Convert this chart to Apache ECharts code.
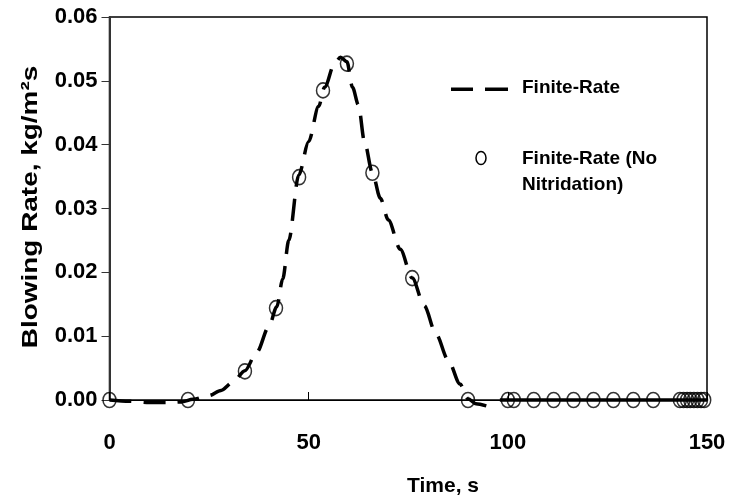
<!DOCTYPE html>
<html>
<head>
<meta charset="utf-8">
<script src="https://cdn.jsdelivr.net/npm/echarts@6/dist/echarts.min.js"></script>
<style>
  html, body { margin: 0; padding: 0; background: #fff; }
  #chart { width: 731px; height: 504px; }
</style>
</head>
<body>
<div id="chart"></div>
<script>
// Finite-rate blowing rate history (dashed curve)
const lineTime = [0, 5, 10, 15, 18, 21, 25, 28, 31, 34, 37, 40, 42, 43.5, 45, 47.5, 50, 52.5, 54, 56.5, 58, 59.6, 61, 62.5, 64, 66, 68, 70, 73, 76, 79, 82, 85, 88, 90, 92, 95];
const lineRate = [0, -0.0002, -0.0004, -0.0004, -0.0003, 0.0001, 0.0007, 0.0015, 0.0028, 0.0046, 0.0075, 0.0115, 0.0146, 0.019, 0.025, 0.0352, 0.0405, 0.046, 0.049, 0.0527, 0.0537, 0.053, 0.049, 0.0462, 0.0405, 0.0356, 0.0316, 0.0282, 0.0236, 0.0191, 0.0148, 0.0103, 0.0063, 0.0025, 0.0002, -0.0006, -0.001];
// Tail of the same curve after burn-out (drawn solid)
const tailTime = [98, 100, 110, 120, 130, 140, 150];
const tailRate = [0, 0, 0, 0, 0, 0, 0];

// Finite-rate without nitridation (open circles)
const circleTime = [0, 19.7, 34, 41.8, 47.6, 53.6, 59.6, 66, 76, 90, 100, 101.5, 106.5, 111.5, 116.5, 121.5, 126.5, 131.5, 136.5, 143.2, 144.1, 145, 145.8, 146.7, 147.6, 148.5, 149.3];
const circleRate = [0, 0, 0.0045, 0.0144, 0.0349, 0.0485, 0.0527, 0.0356, 0.0191, 0, 0, 0, 0, 0, 0, 0, 0, 0, 0, 0, 0, 0, 0, 0, 0, 0, 0];

const xTicks = [0, 50, 100, 150];
const yTicks = [0, 0.01, 0.02, 0.03, 0.04, 0.05, 0.06];

const seriesNames = ['Finite-Rate', 'Finite-Rate (No Nitridation)'];
const xTitle = 'Time, s';
const yTitle = 'Blowing Rate, kg/m²s';

const FONT = "'Liberation Sans', Arial, sans-serif";

const zip = (a, b) => a.map((v, i) => [v, b[i]]);

const chart = echarts.init(document.getElementById('chart'), null, { renderer: 'canvas' });

chart.setOption({
  animation: false,
  backgroundColor: '#ffffff',
  grid: { left: 109.5, right: 24, top: 17, bottom: 104, show: true, borderColor: '#000', borderWidth: 1.5, backgroundColor: 'transparent' },
  xAxis: {
    type: 'value',
    min: xTicks[0], max: xTicks[xTicks.length - 1], interval: 50,
    axisLine: { lineStyle: { color: '#000', width: 1.2 } },
    axisTick: { inside: true, length: 8, lineStyle: { color: '#000', width: 1 } },
    axisLabel: { margin: 32, fontFamily: FONT, fontWeight: 'bold', fontSize: 22, color: '#000' },
    splitLine: { show: false }
  },
  yAxis: {
    type: 'value',
    min: yTicks[0], max: yTicks[yTicks.length - 1], interval: 0.01,
    axisLine: { lineStyle: { color: '#333', width: 2 } },
    axisTick: { inside: false, length: 8, lineStyle: { color: '#333', width: 1 } },
    axisLabel: { margin: 12, fontFamily: FONT, fontWeight: 'bold', fontSize: 22, color: '#000', formatter: v => v.toFixed(2) },
    splitLine: { show: false }
  },
  series: [
    {
      name: seriesNames[0], type: 'line', data: zip(lineTime, lineRate),
      showSymbol: false, symbol: 'none', clip: false, smooth: 0.3, smoothMonotone: 'x',
      lineStyle: { color: '#000', width: 3.5, type: [22, 12] }, z: 3
    },
    {
      name: seriesNames[0], type: 'line', data: zip(tailTime, tailRate),
      showSymbol: false, symbol: 'none', clip: false,
      lineStyle: { color: '#000', width: 3.5, type: 'solid' }, z: 3
    },
    {
      name: seriesNames[1], type: 'scatter', data: zip(circleTime, circleRate),
      symbol: 'circle', symbolSize: [13, 15], clip: false,
      itemStyle: { color: 'rgba(255,255,255,0)', borderColor: '#000', borderWidth: 1.6 }, z: 4
    }
  ],
  graphic: [
    // axis titles
    { type: 'text', x: 443, y: 486, style: { text: xTitle, font: "bold 21px " + FONT, fill: '#000', align: 'center', verticalAlign: 'middle' } },
    { type: 'text', x: 31, y: 207, rotation: Math.PI / 2, scaleX: 1.27, style: { text: yTitle, font: "bold 22px " + FONT, fill: '#000', align: 'center', verticalAlign: 'middle' } },
    // legend
    { type: 'rect', shape: { x: 451, y: 87.5, width: 22, height: 3.5 }, style: { fill: '#000' } },
    { type: 'rect', shape: { x: 485, y: 87.5, width: 23, height: 3.5 }, style: { fill: '#000' } },
    { type: 'text', left: 522, top: 78, style: { text: seriesNames[0], font: "bold 19px " + FONT, fill: '#000' } },
    { type: 'ellipse', shape: { cx: 481, cy: 158, rx: 5, ry: 6.5 }, style: { fill: 'none', stroke: '#000', lineWidth: 1.5 } },
    { type: 'text', left: 522, top: 146, style: { text: 'Finite-Rate (No\nNitridation)', font: "bold 19px " + FONT, lineHeight: 26, fill: '#000' } }
  ]
});
</script>
</body>
</html>
